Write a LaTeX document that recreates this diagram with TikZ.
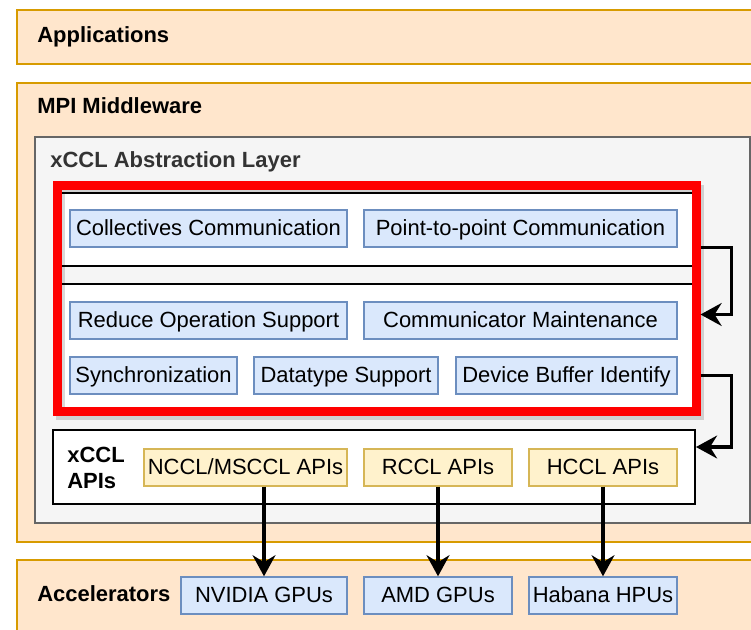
\documentclass[tikz,border=0pt]{standalone}
\usepackage{fontspec}
\setmainfont{Liberation Sans}
\usetikzlibrary{arrows.meta}

\definecolor{layerFill}{HTML}{FFE6CC}
\definecolor{layerLine}{HTML}{D79B00}
\definecolor{absFill}{HTML}{F5F5F5}
\definecolor{absLine}{HTML}{666666}
\definecolor{absText}{HTML}{333333}
\definecolor{funcFill}{HTML}{DAE8FC}
\definecolor{funcLine}{HTML}{6C8EBF}
\definecolor{apiFill}{HTML}{FFF2CC}
\definecolor{apiLine}{HTML}{D6B656}
\definecolor{hiRed}{HTML}{FF0000}

\begin{document}
\begin{tikzpicture}[
        font=\fontsize{12.5}{15}\selectfont,
        layer/.style={rectangle, draw=layerLine, line width=1.1pt, fill=layerFill, anchor=north west, minimum width=15cm},
        layertitle/.style={anchor=west, inner sep=0pt, align=left, font=\fontsize{12.5}{15}\selectfont\bfseries},
        panel/.style={rectangle, draw=black, line width=0.9pt, fill=white, anchor=north west, minimum width=12.78cm},
        redframe/.style={rectangle, draw=hiRed, line width=0.18cm, anchor=north west, minimum width=12.78cm, minimum height=4.51cm},
        func/.style={rectangle, draw=funcLine, line width=0.8pt, fill=funcFill, minimum height=0.74cm, inner sep=0pt, text height=9pt, text depth=1pt},
        api/.style={func, draw=apiLine, fill=apiFill},
        link/.style={line width=2pt, -{Stealth[length=12pt, width=13pt, inset=4pt]}}
    ]
        \useasboundingbox (0,0) rectangle (15.02,12.58);
        \clip (0,0) rectangle (15.02,12.58);

        \node[layer, minimum height=1.08cm] (app) at (0.32,12.40) {};
        \node[layertitle] at ([xshift=0.42cm]app.west) {Applications};

        \node[layer, minimum height=9.18cm] (mpi) at (0.32,10.94) {};
        \node[layertitle] at (0.74,10.46) {MPI Middleware};

        \node[rectangle, draw=absLine, line width=1.1pt, fill=absFill, anchor=north west, minimum width=14.30cm, minimum height=7.72cm] (abs) at (0.68,9.86) {};
        \node[layertitle, text=absText] at (1.00,9.34) {xCCL Abstraction Layer};

        \node[panel, minimum height=1.46cm] (toppanel) at (1.14,8.74) {};
        \node[panel, minimum height=2.56cm] (botpanel) at (1.14,6.92) {};

        \node[func, minimum width=5.54cm] (coll) at (4.17,8.01) {Collectives Communication};
        \node[func, minimum width=6.26cm] (p2p) at (10.41,8.01) {Point-to-point Communication};
        \node[func, minimum width=5.54cm] (reduce) at (4.17,6.17) {Reduce Operation Support};
        \node[func, minimum width=6.26cm] (comm) at (10.41,6.17) {Communicator Maintenance};
        \node[func, minimum width=3.34cm] (sync) at (3.07,5.07) {Synchronization};
        \node[func, minimum width=3.68cm] (dtype) at (6.92,5.07) {Datatype Support};
        \node[func, minimum width=4.42cm] (devbuf) at (11.33,5.07) {Device Buffer Identify};

        % highlighted part, with its shadow
        \node[redframe, draw=black, opacity=0.15] (redshade) at (1.12,8.88) {};
        \node[redframe] (red) at (1.05,8.95) {};

        \node[rectangle, draw=black, line width=1.1pt, fill=white, minimum width=12.84cm, minimum height=1.48cm] (apis) at (7.48,3.24) {};
        \node[layertitle] at (1.34,3.22) {xCCL\\APIs};
        \node[api, minimum width=4.06cm] (nccl) at (4.91,3.23) {NCCL/MSCCL APIs};
        \node[api, minimum width=2.96cm] (rccl) at (8.76,3.23) {RCCL APIs};
        \node[api, minimum width=2.96cm] (hccl) at (12.06,3.23) {HCCL APIs};

        \node[layer, minimum height=1.6cm] (acc) at (0.32,1.40) {};
        \node[layertitle] at (0.74,0.70) {Accelerators};
        \node[func, minimum width=3.32cm] (nvidia) at (5.28,0.67) {NVIDIA GPUs};
        \node[func, minimum width=2.96cm] (amd) at (8.76,0.67) {AMD GPUs};
        \node[func, minimum width=2.96cm] (habana) at (12.06,0.67) {Habana HPUs};

        \coordinate (loopin) at ([yshift=0.12cm]comm.center);
        \coordinate (apisin) at ([yshift=0.4cm]apis.east);
        \draw[link] (red.east |- p2p.south) -- ++(0.62,0) |- (red.east |- loopin);
        \draw[link] (red.east |- devbuf.center) -- ++(0.62,0) |- (apisin);

        \draw[link] (nvidia |- nccl.south) -- (nvidia.north);
        \draw[link] (amd |- rccl.south) -- (amd.north);
        \draw[link] (habana |- hccl.south) -- (habana.north);
    \end{tikzpicture}
\end{document}
